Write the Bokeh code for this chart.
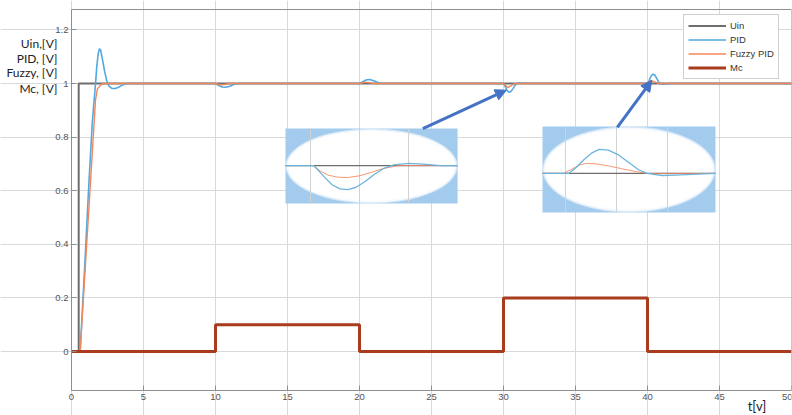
from bokeh.plotting import figure
from bokeh.models import (Range1d, FixedTicker, CustomJSTickFormatter, Label,
                          Arrow, NormalHead, LinearAxis)
from bokeh.embed import file_html
from bokeh.resources import INLINE

# ---------------- data ----------------
X_TICKS = [0, 5, 10, 15, 20, 25, 30, 35, 40, 45, 50]
Y_TICKS = [0, 0.2, 0.4, 0.6, 0.8, 1.0, 1.2]

T_UIN = [0, 0.5, 0.5, 50]
UIN = [0, 0, 1, 1]

T_MC = [0, 10, 10, 20, 20, 30, 30, 40, 40, 50]
MC = [0, 0, 0.1, 0.1, 0, 0, 0.2, 0.2, 0, 0]

T_PID = [0, 0.6, 0.9, 1.2, 1.45, 1.67, 1.75, 1.85, 1.94, 2.02, 2.15, 2.3, 2.45,
         2.6, 2.8, 3.0, 3.2, 3.5, 3.8, 4.2,
         10.0, 10.2, 10.45, 10.7, 11.0, 11.3, 11.6,
         20.0, 20.2, 20.45, 20.7, 21.0, 21.3, 21.6,
         30.0, 30.12, 30.25, 30.38, 30.5, 30.65, 30.8, 31.0, 31.3, 31.8,
         40.0, 40.12, 40.25, 40.38, 40.5, 40.65, 40.8, 41.0, 41.3, 41.6, 50]
PID = [0, 0, 0.3, 0.62, 0.86, 1.0, 1.06, 1.11, 1.13, 1.125, 1.09, 1.045, 1.01,
       0.99, 0.982, 0.981, 0.984, 0.993, 1.0, 1.0,
       1.0, 0.993, 0.987, 0.986, 0.99, 0.997, 1.0,
       1.0, 1.006, 1.013, 1.015, 1.01, 1.003, 1.0,
       1.0, 0.988, 0.974, 0.967, 0.969, 0.98, 0.993, 1.002, 1.002, 1.0,
       1.0, 1.012, 1.028, 1.035, 1.032, 1.018, 1.003, 0.997, 0.998, 1.0, 1.0]

T_FUZ = [0, 0.6, 1.67, 1.8, 2.1, 2.5, 10.0, 10.4, 11.0, 20.0, 20.4, 21.0,
         30.0, 30.3, 30.8, 40.0, 40.2, 40.8, 50]
FUZ = [0, 0, 0.94, 0.98, 0.998, 1.0, 1.0, 0.994, 1.0, 1.0, 1.005, 1.0,
       1.0, 0.985, 1.0, 1.0, 1.012, 1.0, 1.0]

# magnified views (inset 1 around t=30, inset 2 around t=40)
IN1_T_PID = [29.745, 30.03, 30.08, 30.15, 30.22, 30.3, 30.38, 30.46, 30.55,
             30.65, 30.75, 30.85, 31.0, 31.15, 31.33, 31.5]
IN1_PID = [1, 1, 0.993, 0.982, 0.972, 0.966, 0.965, 0.968, 0.976, 0.987,
           0.996, 1.001, 1.003, 1.002, 1.0, 1.0]
IN1_T_FUZ = [29.745, 30.03, 30.1, 30.18, 30.28, 30.38, 30.5, 30.62, 30.75, 30.9, 31.5]
IN1_FUZ = [1, 1, 0.992, 0.986, 0.983, 0.9825, 0.985, 0.99, 0.996, 1.0, 1.0]
IN1_GRID = [30.0, 30.5, 31.0]

IN2_T_PID = [39.775, 40.03, 40.1, 40.18, 40.26, 40.33, 40.42, 40.52, 40.62,
             40.72, 40.8, 40.95, 41.13, 41.47]
IN2_PID = [1, 1, 1.008, 1.02, 1.03, 1.035, 1.034, 1.027, 1.016, 1.005, 1.0,
           0.997, 0.998, 1.0]
IN2_T_FUZ = [39.775, 39.98, 40.06, 40.13, 40.2, 40.3, 40.42, 40.55, 40.68, 40.8, 41.47]
IN2_FUZ = [1, 1, 1.006, 1.012, 1.0146, 1.014, 1.011, 1.007, 1.003, 1.0, 1.0]
IN2_GRID = [40.0, 40.5, 41.0]

# ---------------- layout / style ----------------
AX_X = (0, 50)              # drawn axis extent (x)
AX_Y = (-0.1455, 1.276)     # drawn axis extent (y)
IN1_BOX = (14.86, 26.81, 0.552, 0.832)      # placement of inset 1 on the plot
IN1_VIEW = (29.745, 31.5, 0.9446, 1.0539)   # window shown by inset 1
IN2_BOX = (32.71, 44.72, 0.5187, 0.8396)
IN2_VIEW = (39.775, 41.47, 0.943, 1.0685)

C_UIN = "#6e6e6e"
C_PID = "#52a8e2"
C_FUZ = "#f4875a"
C_MC = "#a83c1c"
C_INSET_BG = "#a2cbee"
C_ARROW = "#4472c4"
C_FRAME = "#8f8f8f"

p = figure(width=792, height=415, output_backend="svg", toolbar_location=None,
           x_range=Range1d(-4.931, 50), y_range=Range1d(-0.2388, 1.3097),
           min_border_left=0, min_border_right=1, min_border_top=0,
           min_border_bottom=0)
p.background_fill_color = "white"
p.border_fill_color = "white"
p.outline_line_color = None

p.xaxis.fixed_location = AX_Y[0]
p.yaxis.fixed_location = AX_X[0]
p.xaxis.bounds = AX_X
p.yaxis.bounds = AX_Y
for ax in (p.xaxis[0], p.yaxis[0]):
    ax.axis_line_color = C_FRAME
    ax.major_tick_line_color = C_FRAME
    ax.major_tick_in = 5
    ax.major_tick_out = 0
    ax.minor_tick_line_color = None
    ax.major_label_text_font = "Liberation Sans"
    ax.major_label_text_font_size = "9.5px"
    ax.major_label_text_color = "#555555"
p.xaxis.ticker = FixedTicker(ticks=X_TICKS)
p.yaxis.ticker = FixedTicker(ticks=Y_TICKS)
p.yaxis.formatter = CustomJSTickFormatter(code="return String(Math.round(tick*10)/10);")
p.xaxis.major_label_standoff = 4
p.yaxis.major_label_standoff = 3
p.xgrid.grid_line_color = "#d9d9d9"
p.ygrid.grid_line_color = "#d9d9d9"
p.xgrid.bounds = AX_Y
p.ygrid.bounds = AX_X

# box lines (top and right)
top_ax = LinearAxis(fixed_location=AX_Y[1], bounds=AX_X, ticker=FixedTicker(ticks=[]),
                    axis_line_color=C_FRAME, major_tick_line_color=None,
                    minor_tick_line_color=None, major_label_text_font_size="0px")
right_ax = LinearAxis(fixed_location=AX_X[1], bounds=AX_Y, ticker=FixedTicker(ticks=[]),
                      axis_line_color=C_FRAME, major_tick_line_color=None,
                      minor_tick_line_color=None, major_label_text_font_size="0px")
p.add_layout(top_ax, "above")
p.add_layout(right_ax, "right")

# main curves
p.line(T_UIN, UIN, color=C_UIN, line_width=2, legend_label="Uin")
p.line(T_PID, PID, color=C_PID, line_width=1.6, legend_label="PID")
p.line(T_FUZ, FUZ, color=C_FUZ, line_width=1.4, legend_label="Fuzzy PID")
p.line(T_MC, MC, color=C_MC, line_width=3, legend_label="Mc")


def mapx(ts, box, view):
    return [box[0] + (t - view[0]) / (view[1] - view[0]) * (box[1] - box[0]) for t in ts]


def mapy(ys, box, view):
    return [box[2] + (y - view[2]) / (view[3] - view[2]) * (box[3] - box[2]) for y in ys]


def draw_inset(box, view, tp, yp, tf, yf, grid):
    cx = (box[0] + box[1]) / 2
    cy = (box[2] + box[3]) / 2
    w = box[1] - box[0]
    h = box[3] - box[2]
    p.quad(left=[box[0]], right=[box[1]], bottom=[box[2]], top=[box[3]],
           fill_color=C_INSET_BG, line_color=None)
    p.ellipse(x=[cx], y=[cy], width=[w * 1.0], height=[h * 1.0],
              fill_color="white", fill_alpha=0.55, line_color=None)
    p.ellipse(x=[cx], y=[cy], width=[w * 0.985], height=[h * 0.97],
              fill_color="white", fill_alpha=0.8, line_color=None)
    p.ellipse(x=[cx], y=[cy], width=[w * 0.965], height=[h * 0.93],
              fill_color="white", fill_alpha=1, line_color=None)
    gx = mapx(grid, box, view)
    p.segment(x0=gx, x1=gx, y0=[box[2]] * len(gx), y1=[box[3]] * len(gx),
              line_color="#d2d2d2", line_width=1)
    p.line(mapx([view[0], view[1]], box, view), mapy([1, 1], box, view),
           color=C_UIN, line_width=1.3)
    p.line(mapx(tf, box, view), mapy(yf, box, view), color=C_FUZ, line_width=1,
           alpha=0.85)
    p.line(mapx(tp, box, view), mapy(yp, box, view), color="#6cb4dc", line_width=1.3)


draw_inset(IN1_BOX, IN1_VIEW, IN1_T_PID, IN1_PID, IN1_T_FUZ, IN1_FUZ, IN1_GRID)
draw_inset(IN2_BOX, IN2_VIEW, IN2_T_PID, IN2_PID, IN2_T_FUZ, IN2_FUZ, IN2_GRID)

p.add_layout(Arrow(end=NormalHead(size=11, fill_color=C_ARROW, line_color=C_ARROW),
                   x_start=24.4, y_start=0.832, x_end=30.2, y_end=0.975,
                   line_color=C_ARROW, line_width=3))
p.add_layout(Arrow(end=NormalHead(size=11, fill_color=C_ARROW, line_color=C_ARROW),
                   x_start=37.9, y_start=0.836, x_end=40.3, y_end=1.012,
                   line_color=C_ARROW, line_width=3))

# legend
lg = p.legend[0]
lg.location = (683, 336)
lg.label_text_font = "Liberation Sans"
lg.label_text_font_size = "9.5px"
lg.label_text_color = "#333333"
lg.glyph_width = 38
lg.glyph_height = 13
lg.label_height = 13
lg.label_standoff = 4
lg.spacing = 1
lg.padding = 4
lg.margin = 0
lg.border_line_color = "#a0a0a0"
lg.background_fill_alpha = 1

# axis labels
Y_LABELS = ["Uin,[V]", "PID, [V]", "Fuzzy, [V]", "Mc, [V]"]
Y_LABEL_POS = [1.149, 1.092, 1.041, 0.983]
for txt, yy in zip(Y_LABELS, Y_LABEL_POS):
    p.add_layout(Label(x=-0.97, y=yy, text=txt, text_align="right",
                       text_baseline="middle", text_font="Lato",
                       text_font_size="12px", text_color="#222222"))
p.add_layout(Label(x=47.6, y=-0.2015, text="t[v]", text_align="center",
                   text_baseline="middle", text_font="Lato",
                   text_font_size="13px", text_color="#222222"))

open("out.html", "w").write(file_html(p, INLINE))
